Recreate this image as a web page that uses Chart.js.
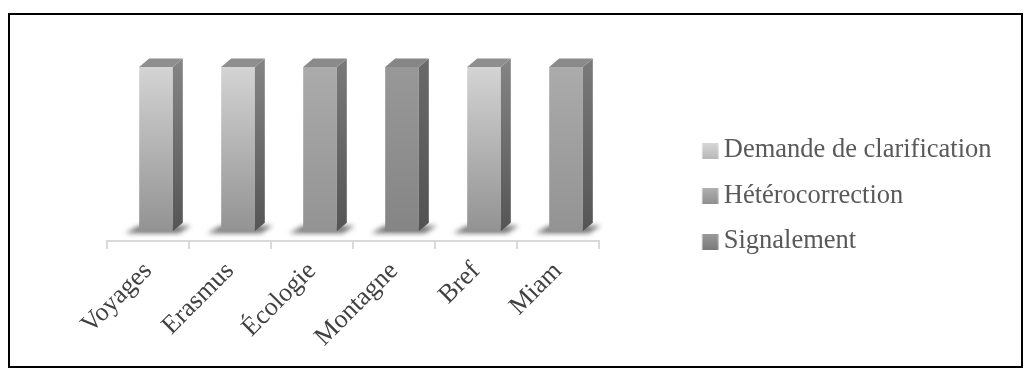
<!DOCTYPE html>
<html>
<head>
<meta charset="utf-8">
<script src="https://cdn.jsdelivr.net/npm/chart.js@4.4.1/dist/chart.umd.min.js"></script>
<style>
  html, body { margin: 0; padding: 0; background: #ffffff; }
  #frame { position: absolute; left: 8px; top: 13px; width: 1011px; height: 351px; border: 2px solid #000; }
  #wrap { position: absolute; left: 10px; top: 15px; width: 1010px; height: 350px; }
</style>
</head>
<body>
<div id="frame"></div>
<div id="wrap"><canvas id="c" width="1010" height="350"></canvas></div>
<script>
// ---- data ----
const categories = ['Voyages', 'Erasmus', 'Écologie', 'Montagne', 'Bref', 'Miam'];
const seriesNames = ['Demande de clarification', 'Hétérocorrection', 'Signalement'];
const demande = [100, 100, 0, 0, 100, 0];
const heterocorrection = [0, 0, 100, 0, 0, 100];
const signalement = [0, 0, 0, 100, 0, 0];

// ---- styles ----
const frontStops = [
  [[0, '#d4d4d4'], [0.25, '#c3c3c3'], [1, '#939393']],
  [[0, '#ababab'], [1, '#939393']],
  [[0, '#989898'], [1, '#858585']]
];
const sideStops = [
  [[0, '#858585'], [1, '#555555']],
  [[0, '#7a7a7a'], [1, '#555555']],
  [[0, '#6a6a6a'], [1, '#525252']]
];
const topColors = ['#8e8e8e', '#8a8a8a', '#868686'];
const legendStops = [
  [[0, '#d8d8d8'], [1, '#b8b8b8']],
  [[0, '#b0b0b0'], [1, '#8f8f8f']],
  [[0, '#9a9a9a'], [1, '#7a7a7a']]
];
const DX = 10, DY = 8.5, SHIFT = 8;
const serif = '"Liberation Serif", "Times New Roman", serif';
const LEG_FONT = 26.5, LEG_PAD = 19, LEG_W = 92.5, AREA_RIGHT = 589, CANVAS_W = 1010;

function legendBox(stops) {
  const W = Math.round(LEG_W);
  const cv = document.createElement('canvas');
  cv.width = W + 16; cv.height = 16;
  const g = cv.getContext('2d');
  const gr = g.createLinearGradient(0, 0, 0, 16);
  stops.forEach(s => gr.addColorStop(s[0], s[1]));
  g.fillStyle = gr;
  g.fillRect(W - 0.5, 0, 16, 16);
  return cv;
}
const legendImgs = legendStops.map(legendBox);

// legend width -> right padding so the plot area ends where the reference's does
const mctx = document.createElement('canvas').getContext('2d');
mctx.font = LEG_FONT + 'px ' + serif;
const maxText = Math.max(...seriesNames.map(s => mctx.measureText(s).width));
const legendWidth = LEG_PAD + LEG_W + LEG_FONT / 2 + maxText + 10;
const padRight = Math.max(0, CANVAS_W - AREA_RIGHT - legendWidth);

function frontFill(idx) {
  return function(ctx) {
    const chart = ctx.chart;
    if (!chart.chartArea) return '#aaaaaa';
    const y = chart.scales.y;
    const g = chart.ctx.createLinearGradient(0, y.getPixelForValue(100), 0, y.getPixelForValue(0));
    frontStops[idx].forEach(s => g.addColorStop(s[0], s[1]));
    return g;
  };
}

const bar3d = {
  id: 'bar3d',
  beforeDatasetsDraw(chart) {
    const ctx = chart.ctx;
    ctx.save();
    ctx.translate(SHIFT, 0);
    chart.data.datasets.forEach((ds, di) => {
      const meta = chart.getDatasetMeta(di);
      meta.data.forEach((el, i) => {
        if (!ds.data[i]) return;
        const l = el.x - el.width / 2, r = el.x + el.width / 2, b = el.base;
        ctx.save();
        ctx.filter = 'blur(2.5px)';
        ctx.fillStyle = 'rgba(0,0,0,0.55)';
        ctx.beginPath();
        ctx.moveTo(l - 14, b + 2);
        ctx.lineTo(r + 6, b + 2);
        ctx.lineTo(r + DX + 8, b - DY + 3);
        ctx.lineTo(l, b - DY + 3);
        ctx.closePath();
        ctx.fill();
        ctx.restore();
      });
    });
  },
  afterDatasetsDraw(chart) {
    const ctx = chart.ctx;
    chart.data.datasets.forEach((ds, di) => {
      const meta = chart.getDatasetMeta(di);
      meta.data.forEach((el, i) => {
        if (!ds.data[i]) return;
        const l = el.x - el.width / 2, r = el.x + el.width / 2, t = el.y, b = el.base;
        const sg = ctx.createLinearGradient(0, t - DY, 0, b);
        sideStops[di].forEach(s => sg.addColorStop(s[0], s[1]));
        ctx.fillStyle = sg;
        ctx.beginPath();
        ctx.moveTo(r, t);
        ctx.lineTo(r + DX, t - DY);
        ctx.lineTo(r + DX, b - DY);
        ctx.lineTo(r, b);
        ctx.closePath();
        ctx.fill();
        ctx.fillStyle = topColors[di];
        ctx.beginPath();
        ctx.moveTo(l, t);
        ctx.lineTo(l + DX, t - DY);
        ctx.lineTo(r + DX, t - DY);
        ctx.lineTo(r, t);
        ctx.closePath();
        ctx.fill();
      });
    });
    ctx.restore();
  }
};

new Chart(document.getElementById('c'), {
  type: 'bar',
  data: {
    labels: categories,
    datasets: [
      { label: seriesNames[0], data: demande, backgroundColor: frontFill(0) },
      { label: seriesNames[1], data: heterocorrection, backgroundColor: frontFill(1) },
      { label: seriesNames[2], data: signalement, backgroundColor: frontFill(2) }
    ]
  },
  options: {
    responsive: false,
    animation: false,
    devicePixelRatio: 1,
    datasets: { bar: { categoryPercentage: 1, barPercentage: 0.41, borderWidth: 0 } },
    layout: { padding: { left: 97, top: 12, right: padRight, bottom: 0 } },
    scales: {
      x: {
        stacked: true,
        grid: { display: true, drawOnChartArea: false, drawTicks: true, tickLength: 8, color: '#d9d9d9', lineWidth: 2, offset: true },
        border: { display: true, color: '#d9d9d9', width: 2 },
        ticks: { autoSkip: false, minRotation: 45, maxRotation: 45, padding: 7, color: '#404040', font: { family: serif, size: 26 } },
        afterFit(s) { s.height = 124; }
      },
      y: { stacked: true, display: false, min: -6, max: 124.4 }
    },
    plugins: {
      tooltip: { enabled: false },
      legend: {
        position: 'right',
        align: 'center',
        labels: {
          usePointStyle: true,
          pointStyleWidth: LEG_W,
          boxWidth: LEG_W,
          boxHeight: 16,
          padding: LEG_PAD,
          color: '#595959',
          font: { family: serif, size: LEG_FONT },
          generateLabels(chart) {
            return chart.data.datasets.map((ds, i) => ({
              text: ds.label,
              fillStyle: '#aaaaaa',
              strokeStyle: 'transparent',
              lineWidth: 0,
              pointStyle: legendImgs[i],
              hidden: false,
              datasetIndex: i,
              fontColor: '#595959'
            }));
          }
        }
      }
    }
  },
  plugins: [bar3d]
});
</script>
</body>
</html>
